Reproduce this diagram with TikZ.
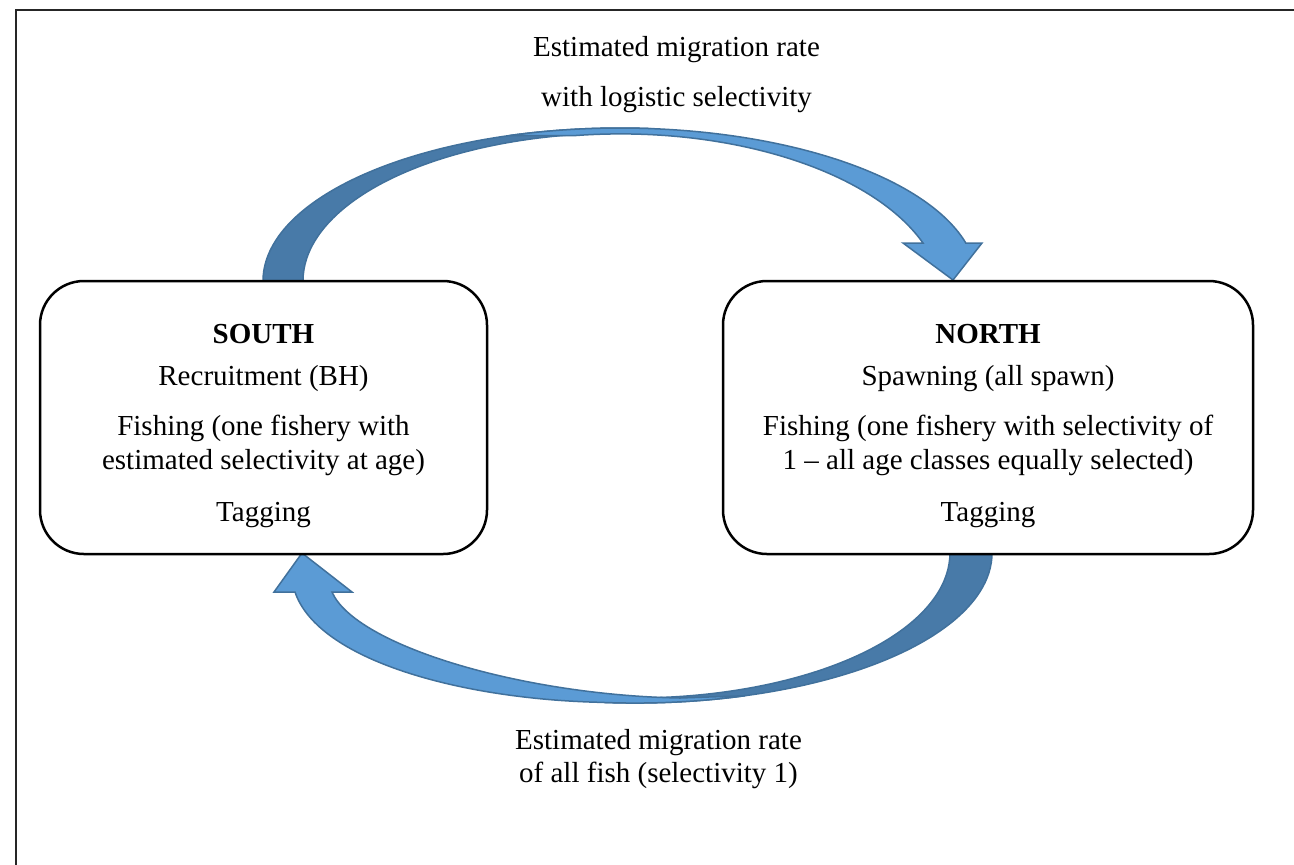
\documentclass[tikz,border=0pt]{standalone}
\usepackage{fontspec}
\setmainfont{Liberation Serif}
\definecolor{arrdark}{RGB}{72,122,168}
\definecolor{arrlight}{RGB}{91,155,213}
\definecolor{arredge}{RGB}{65,113,156}
\begin{document}
\begin{tikzpicture}[x=0.5pt,y=-0.5pt,
  regionbox/.style={draw, line width=1.25pt, fill=white, rounded corners=22pt, inner sep=0pt, minimum height=136.5pt},
  lbl/.style={anchor=base, inner sep=0pt, font=\fontsize{14.5}{17}\selectfont},
  darkband/.style={fill=arrdark, draw=arredge, line width=0.75pt, line join=round},
  lightband/.style={fill=arrlight, draw=arredge, line width=0.75pt, line join=miter}]
\useasboundingbox (0,0) rectangle (1294,864);
\begin{scope}
\clip (0,0) rectangle (1294,864);
\draw[line width=1pt, black!85] (16,10) rectangle (1330,900);
\end{scope}

% top curved arrow (South -> North)
\draw[darkband] (263,281) arc[start angle=180, end angle=275, x radius=357, y radius=153]
  -- (647.6,133.6) arc[start angle=275, end angle=180, x radius=317, y radius=148] -- cycle;
\draw[lightband] (509.7,135.5) arc[start angle=252, end angle=345.62, x radius=357, y radius=153]
  -- (982,243) -- (953,280) -- (903,243) -- (923,243)
  arc[start angle=339.95, end angle=262, x radius=322, y radius=166]
  -- cycle;

% bottom curved arrow (North -> South)
\draw[darkband] (992,553) arc[start angle=0, end angle=95, x radius=357, y radius=150]
  -- (607.5,697.4) arc[start angle=95, end angle=0, x radius=315, y radius=145] -- cycle;
\draw[lightband] (745.3,695.7) arc[start angle=72, end angle=95.63, x radius=357, y radius=150]
  .. controls (460,699) and (318,660) .. (295,592)
  -- (274,592) -- (302,553) -- (352,592) -- (332,592)
  .. controls (355,645) and (520,695) .. (680,698)
  -- cycle;

% boxes
\node[regionbox, minimum width=223.5pt] (south) at (263.5,417.5) {};
\node[regionbox, minimum width=265pt] (north) at (988,417.5) {};

% South text
\node[lbl] (s1) at (263.5,343) {\textbf{SOUTH}};
\node[lbl] (s2) at (263.5,385) {Recruitment (BH)};
\node[lbl] (s3) at (263.5,435) {Fishing (one fishery with};
\node[lbl] (s4) at (263.5,469) {estimated selectivity at age)};
\node[lbl] (s5) at (263.5,521) {Tagging};

% North text
\node[lbl] (n1) at (988,343) {\textbf{NORTH}};
\node[lbl] (n2) at (988,385) {Spawning (all spawn)};
\node[lbl] (n3) at (988,435) {Fishing (one fishery with selectivity of};
\node[lbl] (n4) at (988,469) {1 – all age classes equally selected)};
\node[lbl] (n5) at (988,521) {Tagging};

% arrow labels
\node[lbl] (t1) at (676.5,56) {Estimated migration rate};
\node[lbl] (t2) at (676.5,106) {with logistic selectivity};
\node[lbl] (b1) at (658.5,749) {Estimated migration rate};
\node[lbl] (b2) at (658.5,782) {of all fish (selectivity 1)};
\end{tikzpicture}
\end{document}
